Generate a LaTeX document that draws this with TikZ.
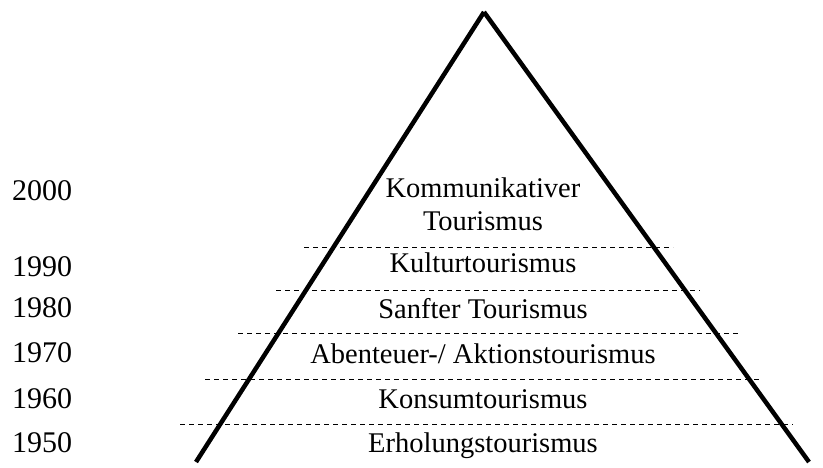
\documentclass[tikz,border=0pt]{standalone}
\usepackage{fontspec}
\setmainfont{Liberation Serif}
\begin{document}
\begin{tikzpicture}[x=1pt,y=-1pt,every node/.style={inner sep=0pt,font=\fontsize{28.5}{33}\selectfont},
    year/.style={anchor=base west,font=\fontsize{30}{36}\selectfont},
    era/.style={anchor=base,align=center},
    side/.style={line width=4.5pt},
    sep/.style={line width=0.8pt,dash pattern=on 5pt off 4pt}]
    \useasboundingbox (0,0) rectangle (823,467);
    \coordinate (top) at (484,12);
    \coordinate (bl)  at (196,462);
    \coordinate (br)  at (809,462);
    \draw[side] (top) -- (bl);
    \draw[side] (top) -- (br);
    \foreach \y/\xa/\xb in {247/304/673,290/276/700,333/238/738,379/205/762,424/180/793}
      \draw[sep] (\xa,\y) -- (\xb,\y);

    \foreach \yr/\y in {2000/200,1990/276,1980/317,1970/362,1960/408,1950/452}
      \node[year] (y\yr) at (12,\y) {\yr};

    \node[era] (komm)  at (483,230) {Kommunikativer\\Tourismus};
    \node[era] (kult)  at (483,272) {Kulturtourismus};
    \node[era] (sanft) at (483,318) {Sanfter Tourismus};
    \node[era] (abent) at (483,363) {Abenteuer-/ Aktionstourismus};
    \node[era] (kons)  at (483,408) {Konsumtourismus};
    \node[era] (erhol) at (483,452) {Erholungstourismus};
  \end{tikzpicture}
\end{document}
